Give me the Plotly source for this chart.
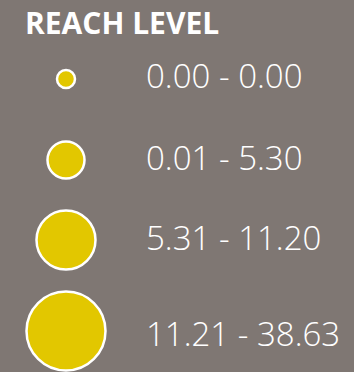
import plotly.graph_objects as go

# Legend for reach level buckets
title = "REACH LEVEL"
range_labels = ["0.00 - 0.00", "0.01 - 5.30", "5.31 - 11.20", "11.21 - 38.63"]

# Bubble diameters (px) and row centres (px from top)
bubble_px = [18, 37, 59, 79]
row_y = [79, 160, 240, 331]
label_y = [80, 162, 242, 338]

BG = "#7f7773"
GOLD = "#e2c700"

fig = go.Figure()
fig.add_trace(go.Scatter(
    x=[66] * len(bubble_px), y=row_y, mode="markers",
    marker=dict(size=bubble_px, color=GOLD, opacity=1,
                line=dict(color="white", width=2.5)),
    hoverinfo="skip", showlegend=False,
))
fig.add_trace(go.Scatter(
    x=[146] * len(range_labels), y=label_y, mode="text",
    text=range_labels, textposition="middle right",
    textfont=dict(family="Open Sans", size=33, color="white", weight=300),
    hoverinfo="skip", showlegend=False,
))
fig.add_annotation(
    x=23, y=22, xref="x", yref="y", text=f"<b>{title}</b>", showarrow=False,
    xanchor="left", yanchor="middle",
    font=dict(family="Open Sans", size=30, color="white"),
)
fig.update_layout(
    width=354, height=372, margin=dict(l=0, r=0, t=0, b=0),
    paper_bgcolor=BG, plot_bgcolor=BG,
    xaxis=dict(range=[0, 354], visible=False, fixedrange=True),
    yaxis=dict(range=[372, 0], visible=False, fixedrange=True),
)
fig.write_html("out.html", config={"displayModeBar": False})
